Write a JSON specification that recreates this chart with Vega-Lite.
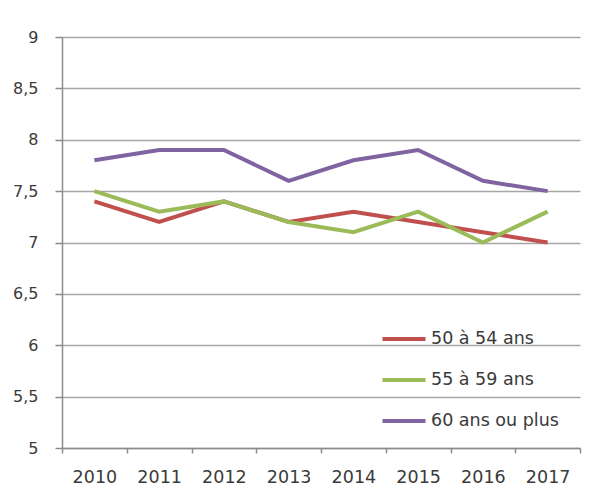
{
  "$schema": "https://vega.github.io/schema/vega-lite/v6.json",
  "autosize": {"type": "none"},
  "width": 518,
  "height": 411,
  "padding": {"left": 62, "top": 37, "right": 20, "bottom": 52},
  "background": "white",
  "data": {
    "values": [
      {"year": "2010", "serie": "50 à 54 ans", "value": 7.4},
      {"year": "2011", "serie": "50 à 54 ans", "value": 7.2},
      {"year": "2012", "serie": "50 à 54 ans", "value": 7.4},
      {"year": "2013", "serie": "50 à 54 ans", "value": 7.2},
      {"year": "2014", "serie": "50 à 54 ans", "value": 7.3},
      {"year": "2015", "serie": "50 à 54 ans", "value": 7.2},
      {"year": "2016", "serie": "50 à 54 ans", "value": 7.1},
      {"year": "2017", "serie": "50 à 54 ans", "value": 7.0},
      {"year": "2010", "serie": "55 à 59 ans", "value": 7.5},
      {"year": "2011", "serie": "55 à 59 ans", "value": 7.3},
      {"year": "2012", "serie": "55 à 59 ans", "value": 7.4},
      {"year": "2013", "serie": "55 à 59 ans", "value": 7.2},
      {"year": "2014", "serie": "55 à 59 ans", "value": 7.1},
      {"year": "2015", "serie": "55 à 59 ans", "value": 7.3},
      {"year": "2016", "serie": "55 à 59 ans", "value": 7.0},
      {"year": "2017", "serie": "55 à 59 ans", "value": 7.3},
      {"year": "2010", "serie": "60 ans ou plus", "value": 7.8},
      {"year": "2011", "serie": "60 ans ou plus", "value": 7.9},
      {"year": "2012", "serie": "60 ans ou plus", "value": 7.9},
      {"year": "2013", "serie": "60 ans ou plus", "value": 7.6},
      {"year": "2014", "serie": "60 ans ou plus", "value": 7.8},
      {"year": "2015", "serie": "60 ans ou plus", "value": 7.9},
      {"year": "2016", "serie": "60 ans ou plus", "value": 7.6},
      {"year": "2017", "serie": "60 ans ou plus", "value": 7.5}
    ]
  },
  "mark": {"type": "line", "strokeWidth": 4, "strokeJoin": "miter"},
  "encoding": {
    "x": {
      "field": "year",
      "type": "ordinal",
      "scale": {"type": "band", "paddingInner": 0, "paddingOuter": 0},
      "bandPosition": 0.5,
      "axis": {
        "title": null,
        "tickBand": "extent",
        "grid": false,
        "labelAngle": 0,
        "domainColor": "#8c8c8c",
        "domainWidth": 1.5,
        "tickColor": "#8c8c8c",
        "tickWidth": 1.5,
        "tickSize": 5,
        "labelFont": "DejaVu Sans",
        "labelFontSize": 17.5,
        "labelColor": "#3a3a3a",
        "labelPadding": 15
      }
    },
    "y": {
      "field": "value",
      "type": "quantitative",
      "scale": {"domain": [5, 9], "nice": false, "zero": false},
      "axis": {
        "title": null,
        "values": [5, 5.5, 6, 6.5, 7, 7.5, 8, 8.5, 9],
        "labelExpr": "replace(toString(datum.value), '.', ',')",
        "grid": true,
        "gridColor": "#a6a6a6",
        "gridWidth": 1.5,
        "domainColor": "#8c8c8c",
        "domainWidth": 1.5,
        "tickColor": "#8c8c8c",
        "tickWidth": 1.5,
        "tickSize": 7,
        "labelFont": "DejaVu Sans",
        "labelFontSize": 16,
        "labelColor": "#3a3a3a",
        "labelPadding": 17
      }
    },
    "color": {
      "field": "serie",
      "type": "nominal",
      "scale": {
        "domain": ["50 à 54 ans", "55 à 59 ans", "60 ans ou plus"],
        "range": ["#C0504D", "#9BBB59", "#8064A2"]
      },
      "legend": {
        "title": null,
        "orient": "none",
        "legendX": 318,
        "legendY": 278,
        "symbolType": "stroke",
        "symbolStrokeWidth": 4,
        "symbolSize": 1850,
        "labelFont": "DejaVu Sans",
        "labelFontSize": 17.5,
        "labelColor": "#3a3a3a",
        "labelOffset": 3,
        "rowPadding": 8
      }
    }
  },
  "config": {"view": {"stroke": null}}
}
